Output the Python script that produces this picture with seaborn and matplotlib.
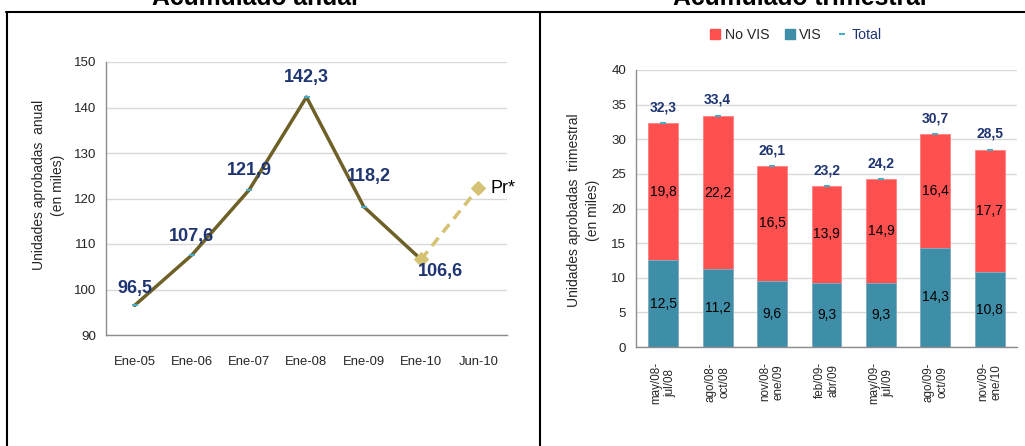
import numpy as np
import pandas as pd
import matplotlib
matplotlib.use("Agg")
import matplotlib.pyplot as plt
from matplotlib.lines import Line2D
from matplotlib.patches import Patch
import seaborn as sns

# ---------------- data ----------------
anual_labels = ["Ene-05", "Ene-06", "Ene-07", "Ene-08", "Ene-09", "Ene-10", "Jun-10"]
anual_values = [96.5, 107.6, 121.9, 142.3, 118.2, 106.6]
proyeccion_value = 122.3
proyeccion_label = "Pr*"

trim_labels = ["may/08-\njul/08", "ago/08-\noct/08", "nov/08-\nene/09", "feb/09-\nabr/09",
               "may/09-\njul/09", "ago/09-\noct/09", "nov/09-\nene/10"]
vis_values = [12.5, 11.2, 9.6, 9.3, 9.3, 14.3, 10.8]
novis_values = [19.8, 22.2, 16.5, 13.9, 14.9, 16.4, 17.7]
total_values = [32.3, 33.4, 26.1, 23.2, 24.2, 30.7, 28.5]

# ---------------- style ----------------
sns.set_theme(style="white")
FONT = ["Liberation Sans", "DejaVu Sans"]
plt.rcParams["font.family"] = FONT

RED = "#FF5050"
TEAL = "#3F8EA8"
NAVY = "#1F3572"
OLIVE = "#6E6027"
TAN = "#D5C272"
CYAN = "#4BACC6"
GRID = "#D9D9D9"
SPINE = "#8C8C8C"

W, H = 1025, 446
fig = plt.figure(figsize=(W / 100, H / 100), dpi=100)

def fx(px):
    return px / W

def fy(py):
    return 1 - py / H

# frame lines
lw_frame = 1.5
fig.add_artist(Line2D([fx(6), 1.0], [fy(12), fy(12)], color="black", lw=lw_frame))
fig.add_artist(Line2D([fx(7), fx(7)], [fy(12), 0], color="black", lw=lw_frame))
fig.add_artist(Line2D([fx(540), fx(540)], [fy(12), 0], color="black", lw=lw_frame))

# titles (cropped at the top like the reference)
fig.text(fx(255), fy(5), "Acumulado anual", ha="center", va="baseline",
         fontsize=17.8, fontweight="bold", color="black")
fig.text(fx(800), fy(5), "Acumulado trimestral", ha="center", va="baseline",
         fontsize=17.8, fontweight="bold", color="black")

def style_axes(ax, ysize):
    for s in ["top", "right"]:
        ax.spines[s].set_visible(False)
    for s in ["left", "bottom"]:
        ax.spines[s].set_color(SPINE)
        ax.spines[s].set_linewidth(1.0)
    ax.yaxis.grid(True, color=GRID, lw=1.0)
    ax.xaxis.grid(False)
    ax.set_axisbelow(True)
    ax.tick_params(axis="y", which="major", direction="out", length=4, color=SPINE,
                   labelsize=ysize, pad=3)
    ax.tick_params(axis="x", which="major", length=0)
    ax.tick_params(axis="x", which="minor", direction="out", length=4, color=SPINE)

# ---------------- left: annual line ----------------
ax1 = fig.add_axes([fx(106), fy(335), fx(507 - 106), (335 - 62) / H])
n_a = len(anual_labels)
xa = np.arange(len(anual_values))
df_a = pd.DataFrame({"x": xa, "y": anual_values})
sns.lineplot(data=df_a, x="x", y="y", ax=ax1, color=OLIVE, lw=2.5,
             marker="_", markersize=5, markeredgecolor=CYAN, markeredgewidth=1.5)
df_p = pd.DataFrame({"x": [xa[-1], n_a - 1], "y": [anual_values[-1], proyeccion_value]})
sns.lineplot(data=df_p, x="x", y="y", ax=ax1, color=TAN, lw=2.5, linestyle=(0, (3, 2)),
             marker="D", markersize=7, markeredgecolor=TAN)
ax1.set_xlim(-0.5, n_a - 0.5)
ax1.set_ylim(90, 150)
ax1.set_yticks(np.arange(90, 151, 10))
ax1.set_xticks(np.arange(n_a))
ax1.set_xticklabels(anual_labels, fontsize=9.4)
ax1.set_xticks(np.arange(n_a + 1) - 0.5, minor=True)
ax1.tick_params(axis="x", which="major", pad=15)
style_axes(ax1, 9.6)
ax1.set_xlabel("")
ax1.set_ylabel("Unidades aprobadas  anual\n(en miles)", fontsize=10, linespacing=1.45)
ax1.yaxis.set_label_coords(-0.102, 0.549)

label_offsets = [(0, 12), (0, 13), (0, 14), (0, 14), (4, 22), (14, -9)]
for xi, v, off in zip(xa, anual_values, label_offsets):
    ax1.annotate(f"{v:.1f}".replace(".", ","), (xi, v), xytext=off, textcoords="offset points",
                 ha="center", va="center", fontsize=13, fontweight="bold", color=NAVY)
ax1.annotate(proyeccion_label, (n_a - 1, proyeccion_value), xytext=(9, 0),
             textcoords="offset points", ha="left", va="center", fontsize=13, color="black",
             annotation_clip=False)

# ---------------- right: stacked bars ----------------
ax2 = fig.add_axes([fx(636), fy(347), fx(1017 - 636), (347 - 70) / H])
df_t = pd.DataFrame({"periodo": trim_labels, "total": total_values, "vis": vis_values,
                     "novis": novis_values})
sns.barplot(data=df_t, x="periodo", y="total", ax=ax2, color=RED, saturation=1,
            width=0.55, edgecolor="#FF8080", linewidth=0.6)
sns.barplot(data=df_t, x="periodo", y="vis", ax=ax2, color=TEAL, saturation=1,
            width=0.55, edgecolor="#7FB3C6", linewidth=0.6)
xt = np.arange(len(trim_labels))
ax2.plot(xt, total_values, ls="none", marker="_", markersize=5, markeredgecolor=CYAN,
         markeredgewidth=1.5)
n_t = len(trim_labels)
ax2.set_xlim(-0.5, n_t - 0.5)
ax2.set_ylim(0, 40)
ax2.set_yticks(np.arange(0, 41, 5))
ax2.set_xticks(xt)
ax2.set_xticklabels(trim_labels, rotation=90, fontsize=8.4, multialignment="center",
                    va="top", ha="center")
ax2.set_xticks(np.arange(n_t + 1) - 0.5, minor=True)
ax2.tick_params(axis="x", which="major", pad=11)
style_axes(ax2, 9.6)
ax2.set_xlabel("")
ax2.set_ylabel("Unidades aprobadas  trimestral\n(en miles)", fontsize=10, linespacing=1.45)
ax2.yaxis.set_label_coords(-0.095, 0.495)

for xi, v, nv, t in zip(xt, vis_values, novis_values, total_values):
    ax2.text(xi, v / 2, f"{v:.1f}".replace(".", ","), ha="center", va="center",
             fontsize=10, color="black")
    ax2.text(xi, v + nv / 2, f"{nv:.1f}".replace(".", ","), ha="center", va="center",
             fontsize=10, color="black")
    ax2.annotate(f"{t:.1f}".replace(".", ","), (xi, t), xytext=(0, 11.5),
                 textcoords="offset points", ha="center", va="center", fontsize=10,
                 fontweight="bold", color=NAVY)

handles = [Patch(facecolor=RED, edgecolor=RED), Patch(facecolor=TEAL, edgecolor=TEAL),
           Line2D([], [], ls="none", marker="_", markersize=5, markeredgecolor=CYAN,
                  markeredgewidth=1.5)]
leg = fig.legend(handles, ["No VIS", "VIS", "Total"], loc="center", ncol=3,
                 bbox_to_anchor=(fx(796), fy(35)), frameon=False, fontsize=10.2,
                 handlelength=0.7, handleheight=0.7, handletextpad=0.3, columnspacing=1.1)
leg.get_texts()[2].set_color(NAVY)

fig.savefig("out.png", dpi=100)
